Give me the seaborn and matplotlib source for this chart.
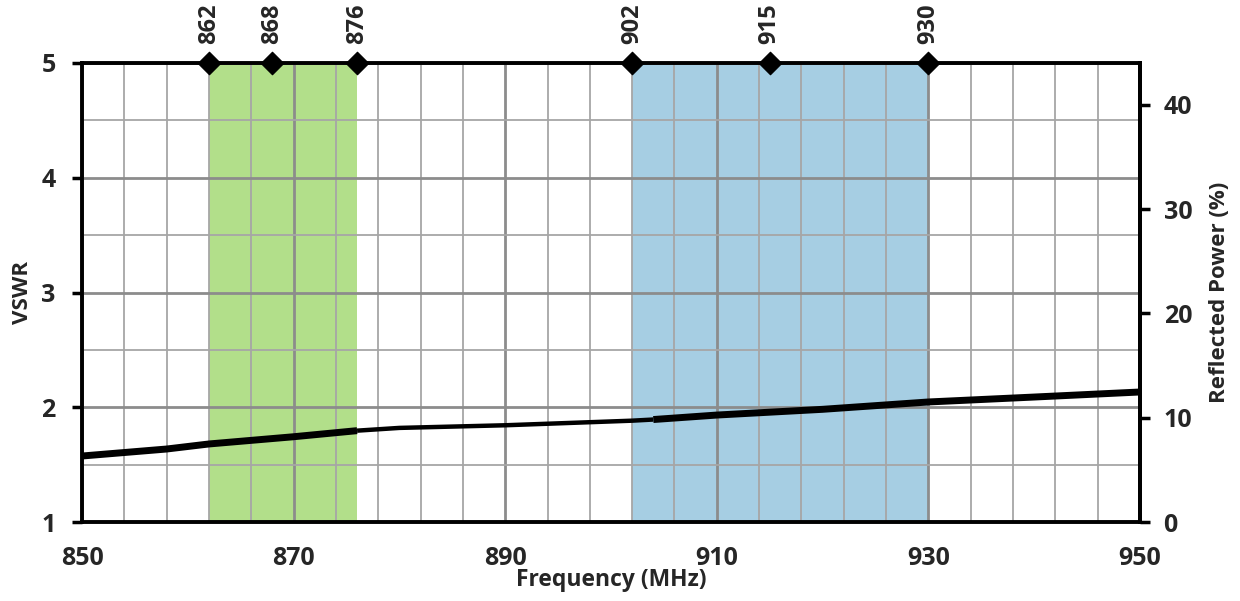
import numpy as np
import pandas as pd
import matplotlib
matplotlib.use("Agg")
import matplotlib.pyplot as plt
import seaborn as sns
from matplotlib.ticker import FixedLocator

# ---- data ----
freq = [850, 858, 862, 870, 876, 880, 890, 902, 904, 910, 920, 930, 940, 950]
vswr = [1.575, 1.636, 1.68, 1.743, 1.796, 1.82, 1.843, 1.883, 1.893, 1.932, 1.982, 2.046, 2.089, 2.133]
band_eu = (862, 876)
band_us = (902, 930)
marker_freqs = [862, 868, 876, 902, 915, 930]
x_ticks = [850, 870, 890, 910, 930, 950]
y_ticks = [1, 2, 3, 4, 5]
y2_ticks = [0, 10, 20, 30, 40]

sns.set_theme(style="white")
plt.rcParams['font.family'] = ['Open Sans', 'DejaVu Sans']
plt.rcParams['font.weight'] = 'bold'

fig = plt.figure(figsize=(12.4, 6.01), dpi=100)
ax = fig.add_axes([82/1240, 1-522/601, (1140-82)/1240, (522-63)/601])

ax.set_xlim(850, 950)
ax.set_ylim(1, 5)

# bands
ax.axvspan(*band_eu, color="#b2df8a", zorder=0, lw=0)
ax.axvspan(*band_us, color="#a6cee3", zorder=0, lw=0)

# grid
ax.xaxis.set_major_locator(FixedLocator(x_ticks))
ax.xaxis.set_minor_locator(FixedLocator(np.arange(850, 951, 4)))
ax.yaxis.set_major_locator(FixedLocator(y_ticks))
ax.yaxis.set_minor_locator(FixedLocator(np.arange(1, 5.01, 0.5)))
ax.grid(which="major", color="#8c8c8c", lw=2.0, zorder=1)
ax.grid(which="minor", color="#a6a6a6", lw=1.3, zorder=1)
ax.set_axisbelow(True)

df = pd.DataFrame({"freq": freq, "vswr": vswr})
seg1 = df[df.freq <= 876]
seg2 = df[(df.freq >= 876) & (df.freq <= 904)]
seg3 = df[df.freq >= 904]
sns.lineplot(data=seg1, x="freq", y="vswr", ax=ax, color="black", lw=5.0, zorder=5, solid_capstyle="butt")
sns.lineplot(data=seg2, x="freq", y="vswr", ax=ax, color="black", lw=3.2, zorder=5, solid_capstyle="butt")
sns.lineplot(data=seg3, x="freq", y="vswr", ax=ax, color="black", lw=5.0, zorder=5, solid_capstyle="butt")

# top markers
mdf = pd.DataFrame({"freq": marker_freqs, "y": [5] * len(marker_freqs)})
sns.scatterplot(data=mdf, x="freq", y="y", ax=ax, marker="D", s=130, color="black",
                edgecolor="black", zorder=10, clip_on=False)
for f in marker_freqs:
    ax.annotate(str(f), xy=(f, 5), xytext=(0, 14), textcoords="offset points",
                rotation=90, ha="center", va="bottom", fontsize=17, fontweight="bold",
                annotation_clip=False)

ax.set_xticklabels([str(t) for t in x_ticks])
ax.set_yticklabels([str(t) for t in y_ticks])
ax.tick_params(axis="both", which="major", direction="out", length=7, width=2.5,
               labelsize=18, color="black", pad=10)
ax.tick_params(axis="y", which="major", pad=12)
ax.tick_params(axis="both", which="minor", length=0)
ax.set_xlabel("Frequency (MHz)", fontsize=16.5, fontweight="bold", labelpad=-2)
ax.set_ylabel("VSWR", fontsize=16, fontweight="bold", labelpad=6)
for lab in ax.get_xticklabels() + ax.get_yticklabels():
    lab.set_fontweight("bold")

for sp in ax.spines.values():
    sp.set_color("black")
    sp.set_linewidth(2.8)
    sp.set_zorder(8)

ax2 = ax.twinx()
ax2.set_ylim(0, 44)
ax2.set_yticks(y2_ticks)
ax2.set_yticklabels([str(t) for t in y2_ticks])
ax2.tick_params(axis="y", direction="out", length=7, width=2.5, labelsize=18, color="black", pad=10)
for lab in ax2.get_yticklabels():
    lab.set_fontweight("bold")
ax2.set_ylabel("Reflected Power (%)", fontsize=16, fontweight="bold", labelpad=12)
for sp in ax2.spines.values():
    sp.set_visible(False)
ax2.spines["right"].set_visible(True)
ax2.spines["right"].set_color("black")
ax2.spines["right"].set_linewidth(2.8)
ax2.grid(False)

fig.savefig("out.png", dpi=100)
